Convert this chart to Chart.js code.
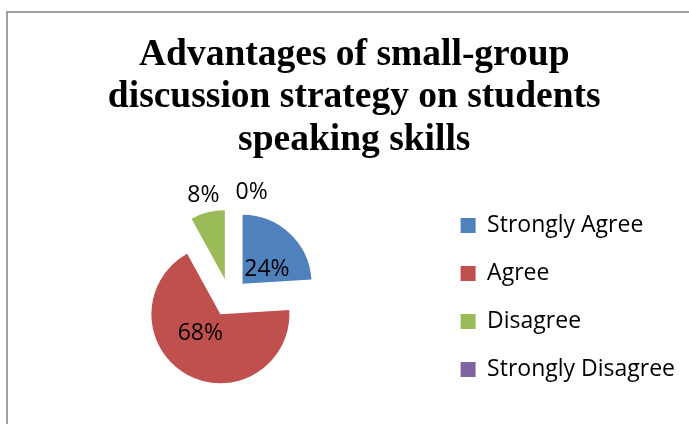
<!DOCTYPE html>
<html>
<head>
<meta charset="utf-8">
<script src="https://cdn.jsdelivr.net/npm/chart.js@4/dist/chart.umd.min.js"></script>
<style>
  html, body { margin: 0; padding: 0; background: #fff; }
  #pie { display: block; }
</style>
</head>
<body>
<canvas id="pie" width="689" height="424"></canvas>
<script>
  // ── data ────────────────────────────────────────────────────
  const titleLines = ['Advantages of small-group', 'discussion strategy on students', 'speaking skills'];
  const categories = ['Strongly Agree', 'Agree', 'Disagree', 'Strongly Disagree'];
  const shares = [24, 68, 8, 0];          // percent
  const sliceColors = ['#4f81bd', '#c0504d', '#9bbb59', '#8064a2'];

  const LABEL_FONT = '23px "Open Sans"';
  const EXPLODE = 19;                     // px each slice is pulled out from the centre
  const OUTSIDE_BELOW = 10;               // slices smaller than this get their label outside
  const LABEL_GAP = 16;
  const LABEL_TURN = 10 * Math.PI / 180;  // inside labels sit a little clockwise of the mid angle

  // the built-in `offset` also grows the radius of wide slices, so pull
  // every arc out by the same distance instead and keep the radius fixed
  class ExplodedArc extends Chart.ArcElement {
    static id = 'explodedArc';
    draw(ctx) {
      const mid = (this.startAngle + this.endAngle) / 2;
      ctx.save();
      ctx.translate(Math.cos(mid) * EXPLODE, Math.sin(mid) * EXPLODE);
      super.draw(ctx);
      ctx.restore();
    }
  }
  class ExplodedPie extends Chart.PieController {
    static id = 'explodedPie';
    static defaults = { dataElementType: 'explodedArc' };
  }
  Chart.register(ExplodedArc, ExplodedPie);

  // white page + grey frame around the chart
  const frame = {
    id: 'frame',
    beforeDraw(chart) {
      const ctx = chart.ctx;
      ctx.save();
      ctx.fillStyle = '#fff';
      ctx.fillRect(0, 0, chart.width, chart.height);
      ctx.strokeStyle = '#a0a0a0';
      ctx.lineWidth = 2;
      ctx.strokeRect(7, 12, chart.width + 20, chart.height + 20);
      ctx.restore();
    }
  };

  // percentage labels: inside for big slices, outside for small ones
  const sliceLabels = {
    id: 'sliceLabels',
    afterDatasetsDraw(chart) {
      const ctx = chart.ctx;
      const meta = chart.getDatasetMeta(0);
      ctx.save();
      ctx.font = LABEL_FONT;
      ctx.fillStyle = '#000';
      ctx.textAlign = 'center';
      ctx.textBaseline = 'middle';
      let prev = null;
      meta.data.forEach((arc, i) => {
        const { x, y, startAngle, endAngle, outerRadius } = arc.getProps(['x', 'y', 'startAngle', 'endAngle', 'outerRadius'], true);
        const text = shares[i] + '%';
        const w = ctx.measureText(text).width;
        const outside = shares[i] < OUTSIDE_BELOW;
        const ang = (startAngle + endAngle) / 2 + (outside ? 0 : LABEL_TURN);
        const dist = outside ? outerRadius + EXPLODE + 17 : (outerRadius + EXPLODE) * 0.53;
        let lx = x + Math.cos(ang) * dist;
        const ly = y + Math.sin(ang) * dist;
        if (outside && prev && lx - w / 2 < prev.right + LABEL_GAP) lx = prev.right + LABEL_GAP + w / 2;
        ctx.fillText(text, lx, ly);
        if (outside) prev = { right: lx + w / 2 };
      });
      ctx.restore();
    }
  };

  new Chart(document.getElementById('pie'), {
    type: 'explodedPie',
    data: {
      labels: categories,
      datasets: [{
        data: shares,
        backgroundColor: sliceColors,
        borderWidth: 0,
        radius: 69,
      }],
    },
    options: {
      responsive: false,
      animation: false,
      layout: { padding: { left: 23.5, right: 4, top: 0, bottom: 0 } },
      plugins: {
        title: {
          display: true,
          text: titleLines,
          color: '#000',
          font: { family: '"Liberation Serif"', size: 37.5, weight: 'bold', lineHeight: 1.13 },
          padding: { top: 34, bottom: 10 },
        },
        legend: {
          position: 'right',
          fullSize: false,
          labels: {
            boxWidth: 15, boxHeight: 15, padding: 25, color: '#000',
            font: { family: '"Open Sans"', size: 23 },
          },
        },
        tooltip: { enabled: false },
      },
    },
    plugins: [frame, sliceLabels],
  });
</script>
</body>
</html>
